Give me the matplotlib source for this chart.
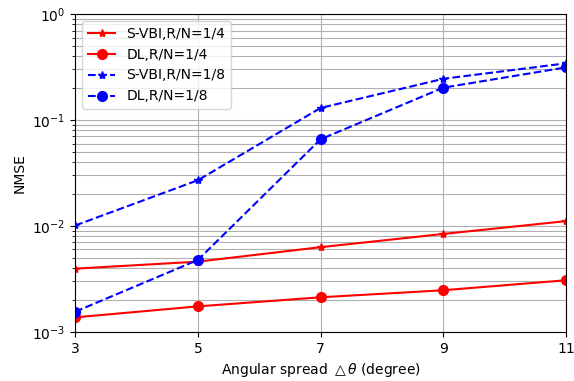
import matplotlib
matplotlib.use("Agg")
import matplotlib.pyplot as plt

x = [3, 5, 7, 9, 11]
svbi_4 = [0.00395, 0.0046, 0.0063, 0.0084, 0.0111]
dl_4 = [0.00137, 0.00174, 0.00212, 0.00247, 0.00307]
svbi_8 = [0.0101, 0.027, 0.130, 0.245, 0.343]
dl_8 = [0.00155, 0.00477, 0.0658, 0.202, 0.314]
labels = ["S-VBI,R/N=1/4", "DL,R/N=1/4", "S-VBI,R/N=1/8", "DL,R/N=1/8"]

fig = plt.figure(figsize=(5.74, 3.81), dpi=100)
ax = fig.add_axes([0.131, 0.129, 0.855, 0.834])
ax.semilogy(x, svbi_4, 'r-', marker='*', markersize=6, linewidth=1.5, label=labels[0])
ax.semilogy(x, dl_4, 'r-', marker='o', markersize=7, linewidth=1.5, label=labels[1])
ax.semilogy(x, svbi_8, 'b--', marker='*', markersize=6, linewidth=1.5, label=labels[2])
ax.semilogy(x, dl_8, 'b--', marker='o', markersize=7, linewidth=1.5, label=labels[3])
ax.set_xlim(3, 11)
ax.set_ylim(1e-3, 1)
ax.set_xticks(x)
ax.grid(True, which='major', color='#b0b0b0', linewidth=0.8)
ax.grid(True, which='minor', axis='y', color='#b0b0b0', linewidth=0.8)
ax.set_xlabel(r'Angular spread $\triangle\theta$ (degree)', fontsize=10)
ax.set_ylabel('NMSE', fontsize=10)
ax.tick_params(labelsize=10)
ax.legend(loc='upper left', fontsize=10)
fig.savefig("out.png", dpi=100)
